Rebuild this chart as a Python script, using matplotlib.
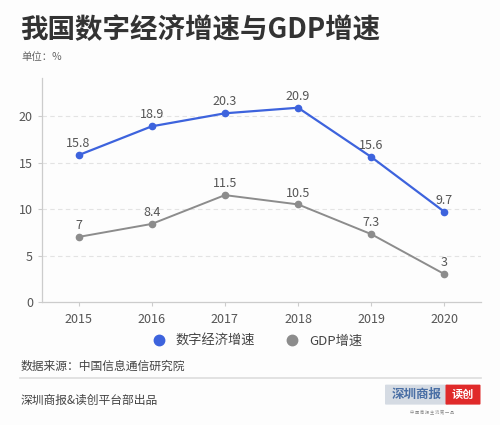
import matplotlib
matplotlib.use("Agg")
import matplotlib.pyplot as plt
from matplotlib.lines import Line2D
from matplotlib.patches import FancyBboxPatch

plt.rcParams['font.family'] = ['Noto Sans CJK SC', 'DejaVu Sans']

years = [2015, 2016, 2017, 2018, 2019, 2020]
digital = [15.8, 18.9, 20.3, 20.9, 15.6, 9.7]
gdp = [7, 8.4, 11.5, 10.5, 7.3, 3]
digital_labels = ["15.8", "18.9", "20.3", "20.9", "15.6", "9.7"]
gdp_labels = ["7", "8.4", "11.5", "10.5", "7.3", "3"]
series_names = ["数字经济增速", "GDP增速"]
yticks = [0, 5, 10, 15, 20]

blue = "#3d63dd"
grey = "#8c8c8c"

fig = plt.figure(figsize=(5, 4.25), dpi=100)
fig.patch.set_facecolor("#fdfdfd")
ax = fig.add_axes([0.084, 0.2894, 0.878, 0.5271])
ax.set_facecolor("#fdfdfd")

ax.plot(years, digital, color=blue, lw=1.6, marker='o', ms=4.5, zorder=3)
ax.plot(years, gdp, color=grey, lw=1.4, marker='o', ms=4.5, zorder=3)
for x, y, t in zip(years, digital, digital_labels):
    ax.annotate(t, (x, y), xytext=(0, 3.5), textcoords='offset points',
                ha='center', va='bottom', fontsize=9, color='#555555')
for x, y, t in zip(years, gdp, gdp_labels):
    ax.annotate(t, (x, y), xytext=(0, 3.5), textcoords='offset points',
                ha='center', va='bottom', fontsize=9, color='#555555')

ax.set_xlim(2014.5, 2020.5)
ax.set_ylim(0, 24.1)
ax.set_xticks(years)
ax.set_xticklabels([str(y) for y in years])
ax.set_yticks(yticks)
for y in yticks[1:]:
    ax.axhline(y, color='#e3e3e3', lw=0.8, ls=(0, (4, 3)), zorder=1)
for s in ['top', 'right']:
    ax.spines[s].set_visible(False)
for s in ['left', 'bottom']:
    ax.spines[s].set_color('#cccccc')
    ax.spines[s].set_linewidth(0.9)
ax.tick_params(axis='both', colors='#cccccc', labelcolor='#555555',
               labelsize=9, length=3, width=0.8)
ax.tick_params(axis='x', pad=5)

fig.text(0.040, 0.93, "我国数字经济增速与GDP增速", fontsize=19.8, fontweight='bold',
         color='#333333', va='center', ha='left')
fig.text(0.042, 0.866, "单位：%", fontsize=7.5, color='#666666', va='center', ha='left')

handles = [Line2D([], [], color=blue, marker='o', ls='none', ms=7.5),
           Line2D([], [], color=grey, marker='o', ls='none', ms=7.5)]
fig.legend(handles, series_names, loc='center', bbox_to_anchor=(0.508, 0.197),
           ncol=2, frameon=False, fontsize=9.5, handletextpad=0.3, columnspacing=1.8,
           labelcolor='#444444')

fig.text(0.042, 0.139, "数据来源：中国信息通信研究院", fontsize=8.5, color='#444444',
         va='center', ha='left')
fig.add_artist(Line2D([0.04, 0.962], [0.111, 0.111], color='#dddddd', lw=1.2))
fig.text(0.042, 0.058, "深圳商报&读创平台部出品", fontsize=8.5, color='#444444',
         va='center', ha='left')

# logo
fig.add_artist(FancyBboxPatch((0.772, 0.05), 0.123, 0.043, boxstyle="round,pad=0.002",
                              fc='#d5dbe3', ec='none', transform=fig.transFigure))
fig.add_artist(FancyBboxPatch((0.893, 0.05), 0.066, 0.043, boxstyle="round,pad=0.002",
                              fc='#e02a2a', ec='none', transform=fig.transFigure))
fig.text(0.833, 0.071, "深圳商报", fontsize=9, color='#4a6fa5', fontweight='bold',
         ha='center', va='center')
fig.text(0.926, 0.071, "读创", fontsize=8, color='white', fontweight='bold',
         ha='center', va='center')
fig.text(0.865, 0.03, "中 国 商 报 主 流 第 一 品", fontsize=3, color='#888888',
         ha='center', va='center')

fig.savefig("out.png", dpi=100, facecolor=fig.get_facecolor())
